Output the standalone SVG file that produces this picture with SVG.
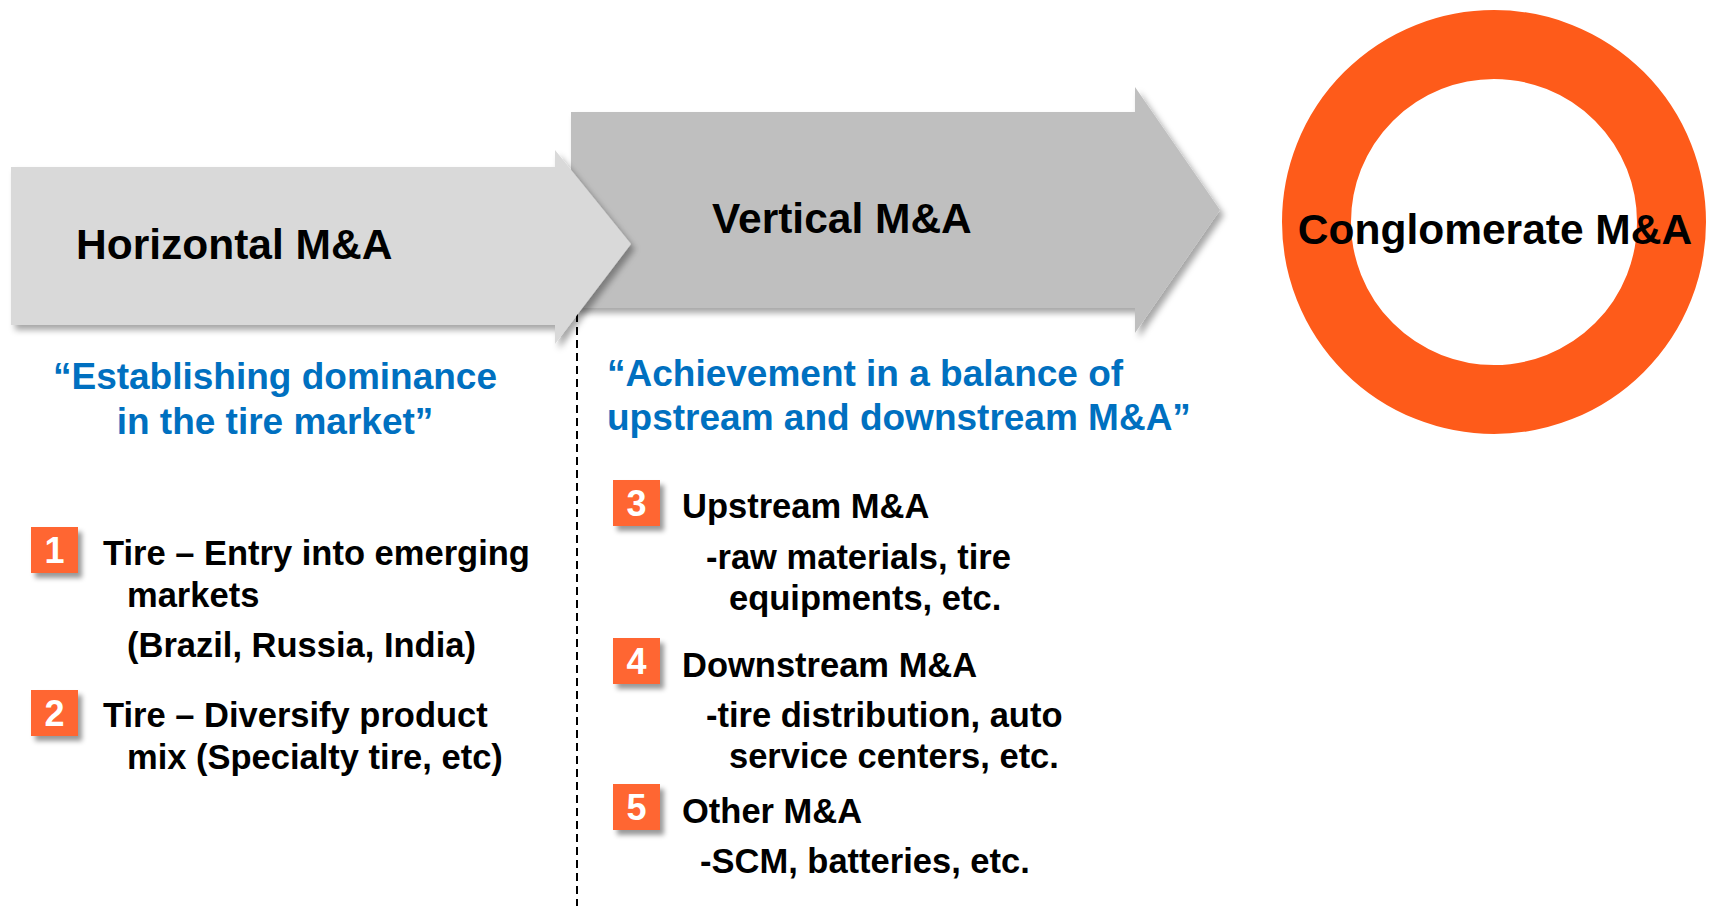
<svg xmlns="http://www.w3.org/2000/svg" width="1711" height="910" viewBox="0 0 1711 910">
<defs>
<filter id="sh" x="-10%" y="-10%" width="130%" height="140%">
<feDropShadow dx="4" dy="5" stdDeviation="3" flood-color="#000" flood-opacity="0.35"/>
</filter>
<filter id="bsh" x="-20%" y="-20%" width="150%" height="160%">
<feDropShadow dx="4" dy="5" stdDeviation="2.5" flood-color="#000" flood-opacity="0.4"/>
</filter>
</defs>
<style>
text{font-family:"Liberation Sans",Arial,sans-serif;font-weight:bold}
.t{font-size:42.5px;fill:#000}
.q{font-size:37px;fill:#0070C0}
.b{font-size:34.5px;fill:#000}
.n{font-size:36px;fill:#fff;text-anchor:middle}
.box{fill:#FF6633;filter:url(#bsh)}
</style>
<rect width="1711" height="910" fill="#fff"/>
<g id="connectors">
<line x1="577" y1="314" x2="577" y2="906" stroke="#000" stroke-width="2" stroke-dasharray="8,5"/>
</g>
<g id="vertical">
<polygon points="571,112 1135,112 1135,87 1220,210 1135,333 1135,308 571,308" fill="#BFBFBF" filter="url(#sh)"/>
<text class="t" x="712" y="233">Vertical M&amp;A</text>
</g>
<g id="horizontal">
<polygon points="11,167 555,167 555,150 631,244 555,344 555,325 11,325" fill="#D9D9D9" filter="url(#sh)"/>
<text class="t" x="76" y="259">Horizontal M&amp;A</text>
</g>
<g id="conglomerate">
<circle cx="1494" cy="222" r="177.5" fill="none" stroke="#FE5B1A" stroke-width="69"/>
<text class="t" x="1495" y="244" text-anchor="middle">Conglomerate M&amp;A</text>
</g>
<g id="quote-horizontal">
<text class="q" x="275" y="389" text-anchor="middle">“Establishing dominance</text>
<text class="q" x="275" y="434" text-anchor="middle">in the tire market”</text>
</g>
<g id="quote-vertical">
<text class="q" x="607" y="386">“Achievement in a balance of</text>
<text class="q" x="607" y="430">upstream and downstream M&amp;A”</text>
</g>
<g id="item1">
<rect class="box" x="31" y="527" width="47" height="46"/>
<text class="n" x="54.5" y="563">1</text>
<text class="b" x="103" y="565">Tire – Entry into emerging</text>
<text class="b" x="127" y="607">markets</text>
<text class="b" x="127" y="657">(Brazil, Russia, India)</text>
</g>
<g id="item2">
<rect class="box" x="31" y="690" width="47" height="46"/>
<text class="n" x="54.5" y="726">2</text>
<text class="b" x="103" y="727">Tire – Diversify product</text>
<text class="b" x="127" y="769">mix (Specialty tire, etc)</text>
</g>
<g id="item3">
<rect class="box" x="613" y="480" width="47" height="46"/>
<text class="n" x="636.5" y="516">3</text>
<text class="b" x="682" y="518">Upstream M&amp;A</text>
<text class="b" x="706" y="569">-raw materials, tire</text>
<text class="b" x="729" y="610">equipments, etc.</text>
</g>
<g id="item4">
<rect class="box" x="613" y="638" width="47" height="46"/>
<text class="n" x="636.5" y="674">4</text>
<text class="b" x="682" y="677">Downstream M&amp;A</text>
<text class="b" x="706" y="727">-tire distribution, auto</text>
<text class="b" x="729" y="768">service centers, etc.</text>
</g>
<g id="item5">
<rect class="box" x="613" y="784" width="47" height="46"/>
<text class="n" x="636.5" y="820">5</text>
<text class="b" x="682" y="823">Other M&amp;A</text>
<text class="b" x="700" y="873">-SCM, batteries, etc.</text>
</g>
</svg>
